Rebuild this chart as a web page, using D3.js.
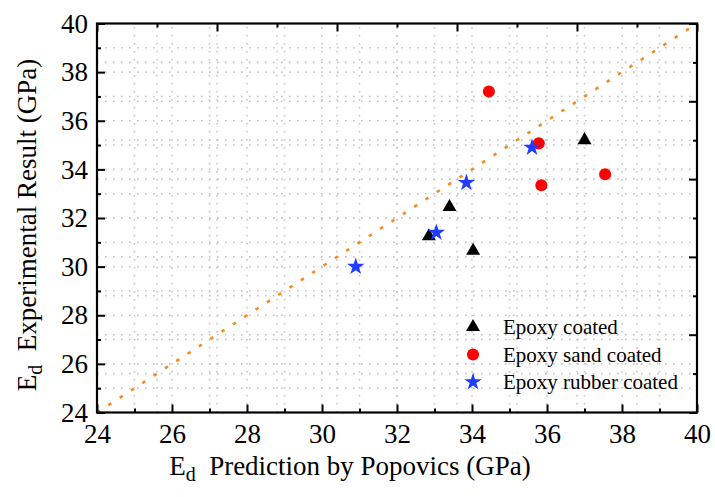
<!DOCTYPE html>
<html>
<head>
<meta charset="utf-8">
<script src="https://cdn.jsdelivr.net/npm/d3@7"></script>
<style>
  body { margin: 0; background: #fff; }
</style>
</head>
<body>
<script>
// data (GPa)
var epoxyX = [37.0, 33.4, 34.03, 32.85];
var epoxyY = [35.2, 32.45, 30.65, 31.25];
var sandX = [34.45, 35.78, 35.85, 37.55];
var sandY = [37.2, 35.07, 33.35, 33.8];
var rubberX = [35.6, 33.85, 33.05, 30.9];
var rubberY = [34.9, 33.45, 31.4, 30.0];
var seriesNames = ["Epoxy coated", "Epoxy sand coated", "Epoxy rubber coated"];
var axisTicks = [24, 26, 28, 30, 32, 34, 36, 38, 40];
var lineEnds = [24, 40];

var width = 715,
    height = 497;
var margin = {left: 97, right: 18, top: 23.5, bottom: 84.5};
var fontFam = "'Liberation Serif', 'Times New Roman', 'DejaVu Serif', serif";

var svg = d3.select("body").append("svg")
    .attr("width", width)
    .attr("height", height)
    .attr("font-family", fontFam);

var x = d3.scaleLinear().domain([24, 40]).range([margin.left, width - margin.right]);
var y = d3.scaleLinear().domain([24, 40]).range([height - margin.bottom, margin.top]);
// mirrored top / right axes have their own divisions
var xTop = d3.scaleLinear().domain([0, 5]).range(x.range());
var yRight = d3.scaleLinear().domain([0, 5]).range(y.range());

var minorX = d3.range(25, 40, 2);
var minorTop = d3.range(0.5, 5, 1);

// grid, dotted, at every tick of all four axes
var grid = svg.append("g")
    .attr("stroke", "#c4c4c4")
    .attr("stroke-width", 1.6)
    .attr("stroke-dasharray", "1.6,6.4");
var vLines = d3.range(25, 40, 1).map(x).concat(d3.range(0.5, 5, 0.5).map(xTop));
var hLines = d3.range(25, 40, 1).map(y).concat(d3.range(0.5, 5, 0.5).map(yRight));
grid.selectAll(".v").data(vLines).enter().append("line")
    .attr("x1", function(d) { return d; }).attr("x2", function(d) { return d; })
    .attr("y1", y(24)).attr("y2", y(40));
grid.selectAll(".h").data(hLines).enter().append("line")
    .attr("y1", function(d) { return d; }).attr("y2", function(d) { return d; })
    .attr("x1", x(24)).attr("x2", x(40));

// y = x reference line
svg.append("line")
    .attr("x1", x(lineEnds[0])).attr("y1", y(lineEnds[0]))
    .attr("x2", x(lineEnds[1])).attr("y2", y(lineEnds[1]))
    .attr("stroke", "#f7891e")
    .attr("stroke-width", 2.6)
    .attr("stroke-dasharray", "3.5,10");

// axes with inward ticks
function styleAxis(g) {
    g.attr("font-family", fontFam);
    g.select(".domain").remove();
    g.selectAll("line").attr("stroke", "#000").attr("stroke-width", 2);
    g.selectAll("text").attr("font-size", 27).attr("fill", "#000");
}

svg.append("g")
    .attr("transform", "translate(0," + y(24) + ")")
    .call(d3.axisBottom(x).tickValues(axisTicks).tickSizeInner(-8).tickSizeOuter(0).tickPadding(11))
    .call(styleAxis);
svg.append("g")
    .attr("transform", "translate(0," + y(24) + ")")
    .call(d3.axisBottom(x).tickValues(minorX).tickSize(-4).tickFormat(""))
    .call(styleAxis);
svg.append("g")
    .attr("transform", "translate(" + x(24) + ",0)")
    .call(d3.axisLeft(y).tickValues(axisTicks).tickSizeInner(-8).tickSizeOuter(0).tickPadding(9))
    .call(styleAxis);
svg.append("g")
    .attr("transform", "translate(" + x(24) + ",0)")
    .call(d3.axisLeft(y).tickValues(minorX).tickSize(-4).tickFormat(""))
    .call(styleAxis);
svg.append("g")
    .attr("transform", "translate(0," + y(40) + ")")
    .call(d3.axisTop(xTop).ticks(5).tickSize(-8).tickFormat(""))
    .call(styleAxis);
svg.append("g")
    .attr("transform", "translate(0," + y(40) + ")")
    .call(d3.axisTop(xTop).tickValues(minorTop).tickSize(-4).tickFormat(""))
    .call(styleAxis);
svg.append("g")
    .attr("transform", "translate(" + x(40) + ",0)")
    .call(d3.axisRight(yRight).ticks(5).tickSize(-8).tickFormat(""))
    .call(styleAxis);
svg.append("g")
    .attr("transform", "translate(" + x(40) + ",0)")
    .call(d3.axisRight(yRight).tickValues(minorTop).tickSize(-4).tickFormat(""))
    .call(styleAxis);

// frame
svg.append("rect")
    .attr("x", x(24)).attr("y", y(40))
    .attr("width", x(40) - x(24)).attr("height", y(24) - y(40))
    .attr("fill", "none").attr("stroke", "#000").attr("stroke-width", 2.2);

// markers
var tri = d3.symbol().type(d3.symbolTriangle).size(85);
var dot = d3.symbol().type(d3.symbolCircle).size(115);
var star = d3.symbol().type(d3.symbolStar).size(95);

function drawSeries(xs, ys, sym, color) {
    svg.append("g").selectAll("path")
        .data(xs)
        .enter().append("path")
        .attr("d", sym)
        .attr("fill", color)
        .attr("transform", function(d, i) { return "translate(" + x(d) + "," + y(ys[i]) + ")"; });
}
drawSeries(sandX, sandY, dot, "#ff0000");
drawSeries(epoxyX, epoxyY, tri, "#000");
drawSeries(rubberX, rubberY, star, "#1f3cff");

// legend
var legend = svg.append("g").attr("transform", "translate(473,327)");
var legendSyms = [tri, dot, star];
var legendColors = ["#000", "#ff0000", "#1f3cff"];
seriesNames.forEach(function(name, i) {
    legend.append("path")
        .attr("d", legendSyms[i])
        .attr("fill", legendColors[i])
        .attr("transform", "translate(0," + (i * 27.5) + ")");
    legend.append("text")
        .attr("x", 30)
        .attr("y", i * 27.5 + 7)
        .attr("font-size", 21)
        .text(name);
});

// axis titles
var xt = svg.append("text")
    .attr("x", 350)
    .attr("y", 475)
    .attr("text-anchor", "middle")
    .attr("font-size", 27);
xt.append("tspan").text("E");
xt.append("tspan").attr("font-size", 20).attr("dy", 6).text("d");
xt.append("tspan").attr("dy", -6).text("\u00a0 Prediction by Popovics (GPa)");

var yt = svg.append("text")
    .attr("transform", "translate(36,225) rotate(-90)")
    .attr("text-anchor", "middle")
    .attr("font-size", 27);
yt.append("tspan").text("E");
yt.append("tspan").attr("font-size", 20).attr("dy", 6).text("d");
yt.append("tspan").attr("dy", -6).text("\u00a0 Experimental Result (GPa)");
</script>
</body>
</html>
